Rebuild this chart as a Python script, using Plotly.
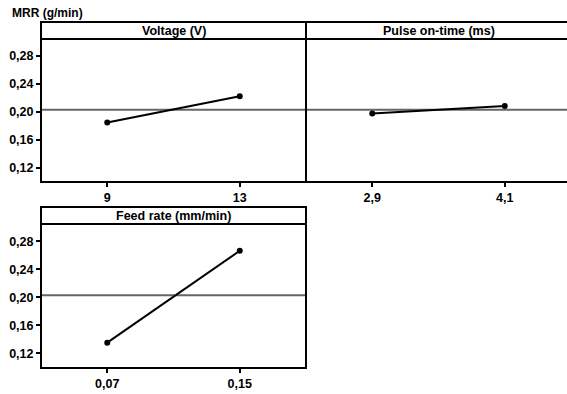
import plotly.graph_objects as go

W, H = 567, 394

factors = ["Voltage (V)", "Pulse on-time (ms)", "Feed rate (mm/min)"]
levels = [["9", "13"], ["2,9", "4,1"], ["0,07", "0,15"]]
means = [[0.1847, 0.2222], [0.1977, 0.2082], [0.1353, 0.2663]]
grand_mean = 0.2028
y_ticks = [0.12, 0.16, 0.20, 0.24, 0.28]
y_tick_text = ["0,12", "0,16", "0,20", "0,24", "0,28"]
y_title = "MRR (g/min)"

def px(x):
    return x / W

def py(y):
    return 1 - y / H

# panel geometry in pixels: (x0, x1, frame_top, header_bottom, plot_bottom, x_range_max)
panels = [
    (41, 306, 22, 39, 182, 1.5),
    (306, 567, 22, 39, 182, -0.5 + 261 / 132.5),
    (41, 306, 207, 224, 368, 1.5),
]

fig = go.Figure()
font = dict(family="Liberation Sans, Arial", size=12.5, color="black")

layout = dict(
    width=W, height=H, margin=dict(l=0, r=0, t=0, b=0),
    paper_bgcolor="white", plot_bgcolor="white", showlegend=False,
    font=font,
)
shapes = []
annotations = []

for i, (x0, x1, ft, hb, pb, xmax) in enumerate(panels):
    n = "" if i == 0 else str(i + 1)
    xa = "xaxis" + n
    ya = "yaxis" + n
    layout[xa] = dict(
        domain=[px(x0), px(x1)], range=[-0.5, xmax], anchor="y" + n,
        tickmode="array", tickvals=[0, 1], ticktext=levels[i],
        ticks="outside", ticklen=4, tickwidth=2, tickcolor="black",
        showgrid=False, zeroline=False, showline=False,
        tickfont=dict(family="Liberation Sans, Arial", size=12.5, color="black", weight="bold"),
    )
    show_y = i != 1
    layout[ya] = dict(
        domain=[py(pb), py(hb)], range=[0.0992, 0.3045], anchor="x" + n,
        tickmode="array", tickvals=y_ticks, ticktext=y_tick_text,
        ticks="outside" if show_y else "", ticklen=4, tickwidth=2, tickcolor="black",
        showticklabels=show_y,
        showgrid=False, zeroline=False, showline=False,
        tickfont=dict(family="Liberation Sans, Arial", size=12.5, color="black", weight="bold"),
    )
    # reference line
    fig.add_trace(go.Scatter(
        x=[-0.5, xmax], y=[grand_mean, grand_mean], mode="lines",
        line=dict(color="#666666", width=2), xaxis="x" + n, yaxis="y" + n,
        hoverinfo="skip",
    ))
    fig.add_trace(go.Scatter(
        x=[0, 1], y=means[i], mode="lines+markers",
        line=dict(color="black", width=2), marker=dict(color="black", size=6),
        xaxis="x" + n, yaxis="y" + n,
    ))
    right = x1 if i != 1 else 571
    shapes.append(dict(type="rect", xref="paper", yref="paper",
                       x0=px(x0), x1=px(right), y0=py(pb), y1=py(ft),
                       line=dict(color="black", width=2), layer="above"))
    shapes.append(dict(type="line", xref="paper", yref="paper",
                       x0=px(x0), x1=px(right), y0=py(hb), y1=py(hb),
                       line=dict(color="black", width=2), layer="above"))
    annotations.append(dict(
        text="<b>" + factors[i] + "</b>", xref="paper", yref="paper",
        x=px((x0 + (x1 if i != 1 else 571)) / 2), y=py(hb + 1), xanchor="center", yanchor="bottom",
        showarrow=False, font=dict(family="Liberation Sans, Arial", size=12.5, color="black"),
    ))

annotations.append(dict(
    text="<b>" + y_title + "</b>", xref="paper", yref="paper",
    x=px(10), y=py(13), xanchor="left", yanchor="middle", showarrow=False,
    font=dict(family="Liberation Sans, Arial", size=12, color="black"),
))

layout["shapes"] = shapes
layout["annotations"] = annotations
fig.update_layout(**layout)
fig.write_html("out.html")
